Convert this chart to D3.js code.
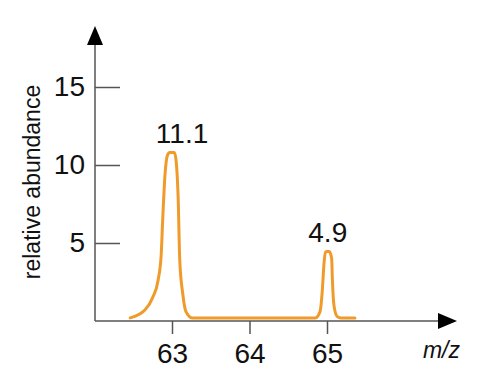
<!DOCTYPE html>
<html><head><meta charset="utf-8">
<script src="https://cdn.jsdelivr.net/npm/d3@7"></script>
<style>body{margin:0;background:#fff}svg{display:block}text{font-family:"Liberation Sans",Arial,sans-serif}</style>
</head><body>
<svg id="c" width="484" height="385"></svg>
<script>
// data
const mz = [62.46,62.65,62.75,62.82,62.86,62.88,62.91,62.94,62.97,63.03,63.05,63.08,63.10,63.14,63.18,63.26,
            64.85,64.91,64.94,64.96,64.98,65.00,65.03,65.06,65.07,65.09,65.13,65.18,65.36];
const abundance = [0.2,0.7,1.5,2.6,4.2,6.5,9.4,10.6,10.8,10.8,10.4,7.8,3.9,1.7,0.6,0.2,
                   0.2,0.6,2.0,3.6,4.4,4.45,4.45,4.0,2.6,1.0,0.3,0.2,0.2];
const xTicks = [63,64,65];
const yTicks = [5,10,15];
const peakLabels = [{mz:63.13,text:"11.1"},{mz:65.01,text:"4.9"}];

const svg = d3.select("#c");
const x = d3.scaleLinear().domain([63,65]).range([172,327]);
const y = d3.scaleLinear().domain([0,15]).range([321,87]);
const axisColor = "#555";

// y axis ticks
const gy = svg.append("g").attr("transform","translate(95,0)")
  .call(d3.axisLeft(y).tickValues(yTicks).tickFormat(d3.format("d")).tickSize(-25).tickPadding(10));
gy.select(".domain").remove();
gy.selectAll(".tick line").attr("stroke",axisColor).attr("stroke-width",1.5);
gy.selectAll(".tick text").style("font-size","28px").attr("fill","#111");

// x axis ticks
const gx = svg.append("g").attr("transform","translate(0,321)")
  .call(d3.axisBottom(x).tickValues(xTicks).tickFormat(d3.format("d")).tickSize(13).tickPadding(9));
gx.select(".domain").remove();
gx.selectAll(".tick line").attr("stroke",axisColor).attr("stroke-width",1.5);
gx.selectAll(".tick text").style("font-size","28px").attr("fill","#111");

// axis lines with arrows
svg.append("line").attr("x1",95).attr("y1",321).attr("x2",95).attr("y2",42)
  .attr("stroke",axisColor).attr("stroke-width",1.5);
svg.append("path").attr("d","M95,26 L87,45 L103,45 Z").attr("fill","#000");
svg.append("line").attr("x1",95).attr("y1",321).attr("x2",442).attr("y2",321)
  .attr("stroke",axisColor).attr("stroke-width",1.5);
svg.append("path").attr("d","M457,321 L438,313 L438,329 Z").attr("fill","#000");

// spectrum line
const pts = mz.map((m,i)=>[m,abundance[i]]);
svg.append("path").datum(pts)
  .attr("d", d3.line().x(d=>x(d[0])).y(d=>y(d[1])).curve(d3.curveMonotoneX))
  .attr("fill","none").attr("stroke","#f09a2a").attr("stroke-width",3)
  .attr("stroke-linejoin","round").attr("stroke-linecap","round");

// peak labels (placed above the drawn peak top)
function peakTop(m){ return d3.max(pts.filter(p=>Math.abs(p[0]-m)<0.3), p=>p[1]); }
svg.selectAll(".pl").data(peakLabels).enter().append("text")
  .attr("x",d=>x(d.mz)).attr("y",d=>y(peakTop(d.mz))-10)
  .attr("text-anchor","middle").style("font-size","28px").attr("fill","#111")
  .text(d=>d.text);

// axis titles
svg.append("text").attr("transform","translate(40,182) rotate(-90)")
  .attr("text-anchor","middle").style("font-size","23px").attr("fill","#111")
  .text("relative abundance");
svg.append("text").attr("x",460).attr("y",358).attr("text-anchor","end")
  .style("font-size","23px").attr("font-style","italic").attr("fill","#111").text("m/z");
</script>
</body></html>
